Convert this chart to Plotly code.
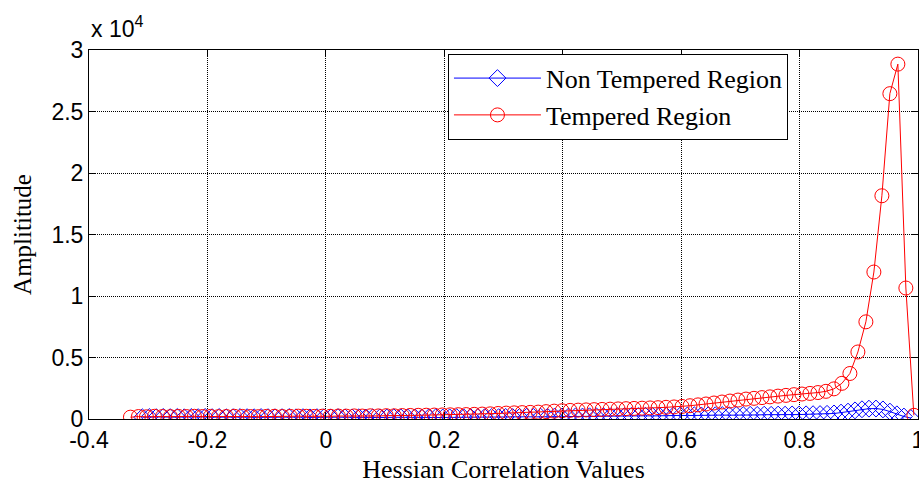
import plotly.graph_objects as go

# Tempered region (red circles)
tempered_x = [-0.3300, -0.3165, -0.3030, -0.2895, -0.2760, -0.2625, -0.2490, -0.2355, -0.2220, -0.2085,
              -0.1950, -0.1815, -0.1680, -0.1545, -0.1410, -0.1275, -0.1140, -0.1005, -0.0870, -0.0735,
              -0.0600, -0.0465, -0.0330, -0.0195, -0.0060, 0.0075, 0.0210, 0.0345, 0.0480, 0.0615,
              0.0750, 0.0885, 0.1020, 0.1155, 0.1290, 0.1425, 0.1560, 0.1695, 0.1830, 0.1965,
              0.2100, 0.2235, 0.2370, 0.2505, 0.2640, 0.2775, 0.2910, 0.3045, 0.3180, 0.3315,
              0.3450, 0.3585, 0.3720, 0.3855, 0.3990, 0.4125, 0.4260, 0.4395, 0.4530, 0.4665,
              0.4800, 0.4935, 0.5070, 0.5205, 0.5340, 0.5475, 0.5610, 0.5745, 0.5880, 0.6015,
              0.6150, 0.6285, 0.6420, 0.6555, 0.6690, 0.6825, 0.6960, 0.7095, 0.7230, 0.7365,
              0.7500, 0.7635, 0.7770, 0.7905, 0.8040, 0.8175, 0.8310, 0.8445, 0.8580, 0.8715,
              0.8850, 0.8985, 0.9120, 0.9255, 0.9390, 0.9525, 0.9660, 0.9795, 0.9930]
tempered_y = [150, 200, 180, 220, 200, 190, 210, 200, 220, 200,
              210, 190, 200, 220, 210, 200, 190, 210, 220, 200,
              210, 230, 220, 210, 230, 220, 240, 230, 250, 240,
              260, 250, 270, 260, 280, 290, 300, 310, 320, 330,
              340, 350, 360, 380, 400, 420, 450, 480, 500, 520,
              540, 560, 600, 640, 670, 700, 720, 740, 760, 780,
              800, 820, 840, 860, 880, 900, 920, 950, 980, 1020,
              1080, 1150, 1220, 1300, 1380, 1460, 1540, 1620, 1680, 1740,
              1800, 1860, 1920, 1980, 2030, 2080, 2150, 2250, 2450, 2900,
              3700, 5450, 7900, 11950, 18150, 26450, 28850, 10650, 300]

# Non tempered region (blue diamonds)
non_tempered_x = [-0.3100, -0.2982, -0.2864, -0.2746, -0.2628, -0.2510, -0.2392, -0.2274, -0.2156, -0.2038,
                  -0.1920, -0.1802, -0.1684, -0.1566, -0.1448, -0.1330, -0.1212, -0.1094, -0.0976, -0.0858,
                  -0.0740, -0.0622, -0.0504, -0.0386, -0.0268, -0.0150, -0.0032, 0.0086, 0.0204, 0.0322,
                  0.0440, 0.0558, 0.0676, 0.0794, 0.0912, 0.1030, 0.1148, 0.1266, 0.1384, 0.1502,
                  0.1620, 0.1738, 0.1856, 0.1974, 0.2092, 0.2210, 0.2328, 0.2446, 0.2564, 0.2682,
                  0.2800, 0.2918, 0.3036, 0.3154, 0.3272, 0.3390, 0.3508, 0.3626, 0.3744, 0.3862,
                  0.3980, 0.4098, 0.4216, 0.4334, 0.4452, 0.4570, 0.4688, 0.4806, 0.4924, 0.5042,
                  0.5160, 0.5278, 0.5396, 0.5514, 0.5632, 0.5750, 0.5868, 0.5986, 0.6104, 0.6222,
                  0.6340, 0.6458, 0.6576, 0.6694, 0.6812, 0.6930, 0.7048, 0.7166, 0.7284, 0.7402,
                  0.7520, 0.7638, 0.7756, 0.7874, 0.7992, 0.8110, 0.8228, 0.8346, 0.8464, 0.8582,
                  0.8700, 0.8818, 0.8936, 0.9054, 0.9172, 0.9290, 0.9408, 0.9526, 0.9644, 0.9762,
                  0.9880]
non_tempered_y = [140, 160, 150, 170, 150, 160, 140, 160, 150, 170,
                  150, 160, 140, 150, 160, 150, 140, 160, 150, 140,
                  150, 160, 140, 150, 130, 150, 140, 130, 150, 140,
                  130, 140, 120, 140, 130, 120, 140, 130, 120, 130,
                  120, 130, 140, 120, 130, 140, 130, 150, 140, 150,
                  160, 150, 170, 160, 170, 180, 170, 190, 180, 200,
                  190, 200, 210, 200, 220, 210, 230, 220, 240, 230,
                  250, 240, 260, 250, 270, 260, 280, 290, 280, 300,
                  290, 310, 300, 320, 310, 330, 320, 340, 330, 350,
                  340, 360, 350, 370, 360, 380, 390, 400, 420, 450,
                  520, 600, 700, 790, 840, 850, 780, 600, 380, 200,
                  80]

y_tick_vals = [0, 5000, 10000, 15000, 20000, 25000, 30000]
y_tick_text = ["0", "0.5", "1", "1.5", "2", "2.5", "3"]
x_tick_vals = [-0.4, -0.2, 0, 0.2, 0.4, 0.6, 0.8, 1.0]
x_tick_text = ["-0.4", "-0.2", "0", "0.2", "0.4", "0.6", "0.8", "1"]

fig = go.Figure()
fig.add_trace(go.Scatter(
    x=non_tempered_x, y=non_tempered_y, mode="lines+markers", name="Non Tempered Region",
    line=dict(color="#0000FF", width=1),
    marker=dict(symbol="diamond-open", size=13, color="#0000FF", line=dict(width=1, color="#0000FF")),
))
fig.add_trace(go.Scatter(
    x=tempered_x, y=tempered_y, mode="lines+markers", name="Tempered Region",
    line=dict(color="#FF0000", width=1),
    marker=dict(symbol="circle-open", size=14, color="#FF0000", line=dict(width=1, color="#FF0000")),
))

tick_font = dict(family="Liberation Sans, Arial", size=23, color="black")
axis_common = dict(
    showline=True, linecolor="black", linewidth=1, mirror="ticks",
    ticks="inside", ticklen=6, tickcolor="black", tickwidth=1,
    showgrid=True, gridcolor="black", griddash="1px,1px", gridwidth=1,
    zeroline=False, tickfont=tick_font, automargin=False,
    ticklabeloverflow="allow",
)

fig.update_layout(
    width=919, height=489,
    margin=dict(l=89, r=1, t=50, b=70),
    paper_bgcolor="white", plot_bgcolor="white",
    xaxis=dict(range=[-0.4, 1.0], tickvals=x_tick_vals, ticktext=x_tick_text,
               title=dict(text="Hessian Correlation Values",
                          font=dict(family="Liberation Serif, Times New Roman", size=26, color="black"),
                          standoff=8),
               **axis_common),
    yaxis=dict(range=[0, 30000], tickvals=y_tick_vals, ticktext=y_tick_text,
               title=dict(text="Amplititude",
                          font=dict(family="Liberation Serif, Times New Roman", size=25, color="black"),
                          standoff=12),
               **axis_common),
    legend=dict(x=0.433, y=0.99, xanchor="left", yanchor="top",
                bgcolor="white", bordercolor="black", borderwidth=1,
                itemwidth=87,
                font=dict(family="Liberation Serif, Times New Roman", size=26, color="black"),
                tracegroupgap=0),
    showlegend=True,
    annotations=[dict(text="x 10<sup>4</sup>", xref="paper", yref="paper", x=0.0, y=1.015,
                      xanchor="left", yanchor="bottom", showarrow=False,
                      font=dict(family="Liberation Sans, Arial", size=23, color="black"))],
)

fig.write_html("out.html")
